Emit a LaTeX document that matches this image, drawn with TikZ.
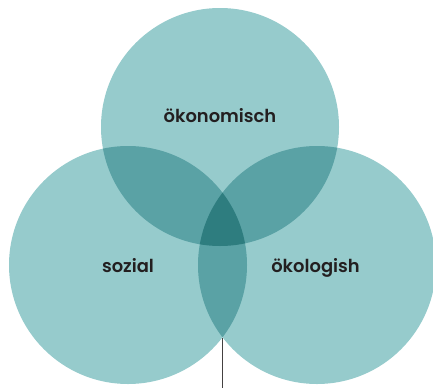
\documentclass[tikz,border=0pt]{standalone}
\usepackage{fontspec}
\setmainfont{Poppins}[BoldFont={Poppins SemiBold}]
\definecolor{tealLight}{HTML}{96CBCC}
\definecolor{tealMid}{HTML}{5AA2A5}
\definecolor{tealDark}{HTML}{2E7D7F}
\definecolor{ink}{HTML}{231F20}
\tikzset{
  label/.style={anchor=base, inner sep=0pt, text=ink, font=\bfseries\fontsize{17.9}{20}\selectfont},
  stem/.style={draw=ink!85, line width=1pt}
}
\begin{document}
\begin{tikzpicture}[x=1pt,y=-1pt]
\useasboundingbox (0,0) rectangle (433,388);
\def\R{119}
\coordinate (ct) at (220,127);
\coordinate (cl) at (128,265);
\coordinate (cr) at (317,265);
% single circles
\fill[tealLight] (ct) circle[radius=\R];
\fill[tealLight] (cl) circle[radius=\R];
\fill[tealLight] (cr) circle[radius=\R];
% pairwise overlaps
\begin{scope}
  \clip (ct) circle[radius=\R];
  \fill[tealMid] (cl) circle[radius=\R];
  \fill[tealMid] (cr) circle[radius=\R];
\end{scope}
\begin{scope}
  \clip (cl) circle[radius=\R];
  \fill[tealMid] (cr) circle[radius=\R];
\end{scope}
% common core
\begin{scope}
  \clip (ct) circle[radius=\R];
  \clip (cl) circle[radius=\R];
  \fill[tealDark] (cr) circle[radius=\R];
\end{scope}
% labels
\node[label] (oekonomisch) at (220,122) {ökonomisch};
\node[label] (sozial) at (128,272) {sozial};
\node[label] (oekologisch) at (315.5,272) {ökologish};
% stem below the lower lens
\coordinate (lens) at (222.5,337.5);
\coordinate (stemEnd) at (222.5,388);
\draw[stem] (lens) -- (stemEnd);
\end{tikzpicture}
\end{document}
